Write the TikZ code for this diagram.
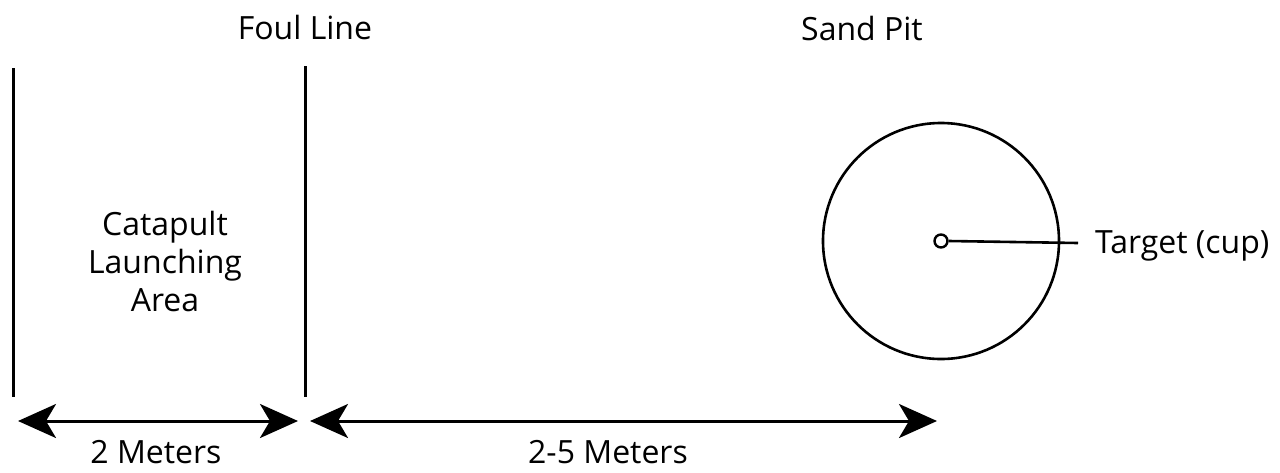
\documentclass[tikz,border=0pt]{standalone}
\usepackage{fontspec}
\setmainfont{Open Sans}
\usetikzlibrary{arrows.meta}
\begin{document}
\begin{tikzpicture}[x=1pt,y=-1pt,
  lbl/.style={font=\fontsize{32}{38}\selectfont, inner sep=0pt},
  rule/.style={line width=3pt},
  dim/.style={line width=3pt, {Stealth[length=38pt,width=34pt,inset=10pt]}-{Stealth[length=38pt,width=34pt,inset=10pt]}},
  ring/.style={circle, draw, line width=2.6pt, inner sep=0pt}]
\useasboundingbox (0,0) rectangle (1280,472);
% vertical lines
\coordinate (l1t) at (13,68);
\coordinate (l1b) at (13,397);
\coordinate (l2t) at (305,66);
\coordinate (l2b) at (305,397);
\draw[rule] (l1t) -- (l1b);
\draw[rule] (l2t) -- (l2b);
% labels
\node[lbl, anchor=base] (foul) at (305,39) {Foul Line};
\node[lbl, anchor=base] (sand) at (862,40) {Sand Pit};
\node[lbl, align=center, anchor=center] (area) at (165,261) {Catapult\\Launching\\Area};
% pit and target
\node[ring, minimum size=236pt] (pit) at (941,241) {};
\node[ring, minimum size=13pt, line width=2.4pt] (cup) at (941,241) {};
\coordinate (tend) at (1078,243);
\draw[line width=2.6pt] (cup.east) -- (tend);
\node[lbl, anchor=base west] (target) at (1095,253) {Target (cup)};
% dimension arrows
\coordinate (a1l) at (18,421);
\coordinate (a1r) at (298,421);
\coordinate (a2l) at (310,421);
\coordinate (a2r) at (937,421);
\draw[dim] (a1l) -- (a1r);
\draw[dim] (a2l) -- (a2r);
\node[lbl, anchor=base] (m1) at (156,463) {2 Meters};
\node[lbl, anchor=base] (m2) at (608,463) {2-5 Meters};
\end{tikzpicture}
\end{document}
